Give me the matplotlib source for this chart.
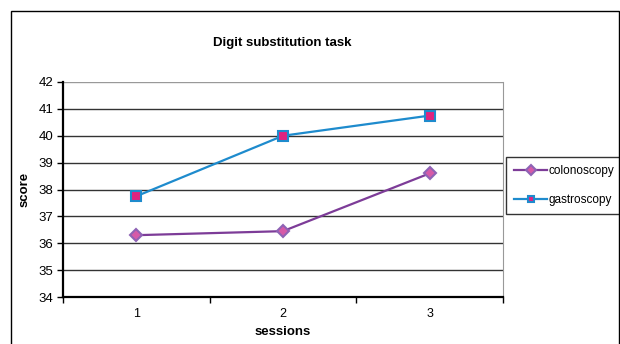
import matplotlib.pyplot as plt
from matplotlib.patches import Rectangle

# data
sessions = [1, 2, 3]
colonoscopy = [36.3, 36.45, 38.6]
gastroscopy = [37.75, 40.0, 40.75]
y_ticks = [34, 35, 36, 37, 38, 39, 40, 41, 42]

plt.rcParams['font.family'] = ['Liberation Sans', 'DejaVu Sans']

fig = plt.figure(figsize=(6.2, 3.44), dpi=100)
W, H = 620, 344
ax = fig.add_axes([63 / W, 1 - 297 / H, (503 - 63) / W, (297 - 82) / H])

# outer chart border
fig.patches.append(Rectangle((11 / W, -0.05), (618.5 - 11) / W, 1 - 11 / H + 0.05,
                             transform=fig.transFigure, fill=False,
                             edgecolor='black', linewidth=1.0))

for y in y_ticks[1:-1]:
    ax.axhline(y, color='#333333', linewidth=1.0, zorder=1)
ax.axhline(42, color='#999999', linewidth=1.0, zorder=1)

ax.plot(sessions, colonoscopy, color='#7D3C98', linewidth=1.6, marker='D',
        markersize=6.5, markerfacecolor='#D65AA8', markeredgecolor='#8E63B5',
        markeredgewidth=1.5, label='colonoscopy', zorder=3)
ax.plot(sessions, gastroscopy, color='#1E8BCD', linewidth=1.6, marker='s',
        markersize=7.5, markerfacecolor='#E0237F', markeredgecolor='#1E8BCD',
        markeredgewidth=1.5, label='gastroscopy', zorder=3)

ax.set_xlim(0.5, 3.5)
ax.set_ylim(34, 42)
ax.set_yticks(y_ticks)
ax.set_xticks(sessions)
ax.set_xticks([0.5, 1.5, 2.5, 3.5], minor=True)
ax.tick_params(axis='x', which='major', length=0, pad=8, labelsize=9)
ax.tick_params(axis='x', which='minor', length=4, direction='out', width=1)
ax.tick_params(axis='y', length=4, direction='out', width=1, labelsize=9.5, pad=3)

ax.spines['top'].set_visible(False)
ax.spines['right'].set_color('#999999')
ax.spines['left'].set_linewidth(1.6)
ax.spines['bottom'].set_linewidth(1.6)

ax.set_xlabel('sessions', fontsize=9.5, fontweight='bold', labelpad=4)
ax.set_ylabel('score', fontsize=9.5, fontweight='bold', labelpad=6)
fig.text(282 / W, 1 - 43 / H, 'Digit substitution task', ha='center', va='center',
         fontsize=9.5, fontweight='bold')

leg = ax.legend(loc='upper left', bbox_to_anchor=(506 / W, 1 - 157 / H),
                bbox_transform=fig.transFigure, frameon=True, fancybox=False,
                edgecolor='black', fontsize=8.5, handlelength=2.8,
                handletextpad=0.1, labelspacing=1.4, borderpad=0.7,
                borderaxespad=0)
leg.get_frame().set_linewidth(1.0)
for h in leg.legend_handles:
    h.set_markersize(5)

fig.savefig('out.png', dpi=100)
